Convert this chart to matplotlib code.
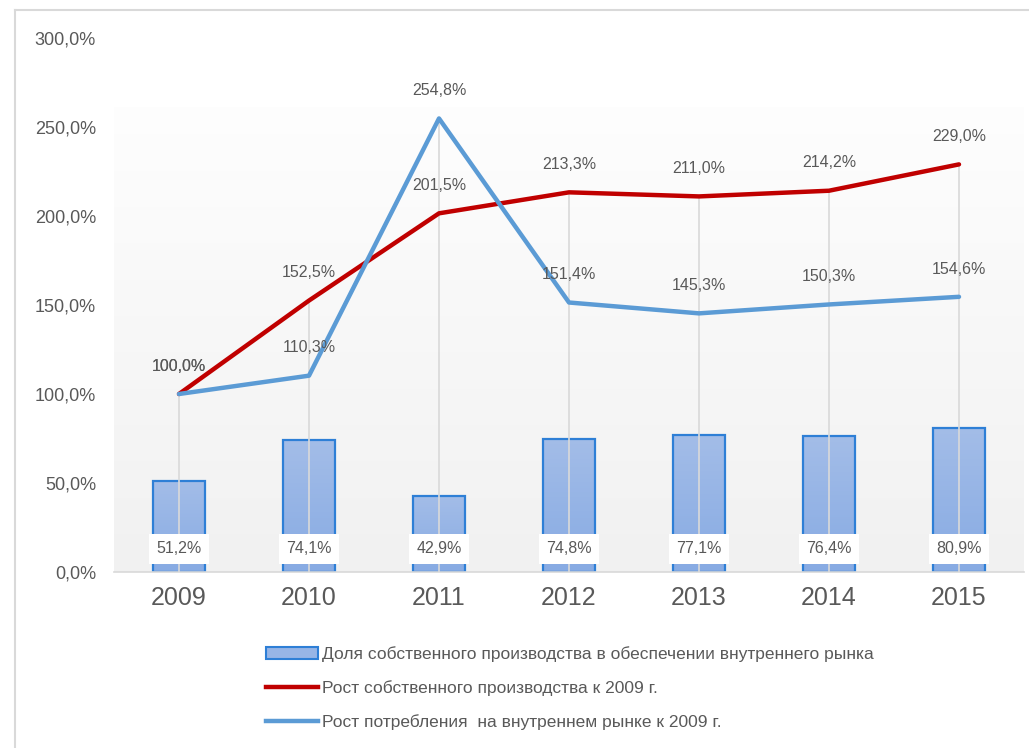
import numpy as np
import matplotlib.pyplot as plt
from matplotlib.lines import Line2D
from matplotlib.patches import Patch

plt.rcParams['font.family'] = ['Liberation Sans', 'DejaVu Sans']

years = ['2009', '2010', '2011', '2012', '2013', '2014', '2015']
share = [51.2, 74.1, 42.9, 74.8, 77.1, 76.4, 80.9]
prod_growth = [100.0, 152.5, 201.5, 213.3, 211.0, 214.2, 229.0]
cons_growth = [100.0, 110.3, 254.8, 151.4, 145.3, 150.3, 154.6]
y_ticks = [0, 50, 100, 150, 200, 250, 300]

share_label = 'Доля собственного производства в обеспечении внутреннего рынка'
prod_label = 'Рост собственного производства к 2009 г.'
cons_label = 'Рост потребления  на внутреннем рынке к 2009 г.'

txt = '#595959'
red = '#c00000'
blue = '#5b9bd5'

def fmt(v):
    return f'{v:.1f}'.replace('.', ',') + '%'

fig = plt.figure(figsize=(10.29, 7.48), dpi=100)
ax = fig.add_axes([114 / 1029, 176 / 748, 910 / 1029, 534 / 748])
x = np.arange(len(years))

# outer chart border (top and left visible)
fig.add_artist(Line2D([15 / 1029, 15 / 1029], [0, 1 - 10 / 748], color='#d9d9d9', lw=1.5,
                      transform=fig.transFigure))
fig.add_artist(Line2D([15 / 1029, 1], [1 - 10 / 748, 1 - 10 / 748], color='#d9d9d9', lw=1.5,
                      transform=fig.transFigure))

# background gradient of the plot area (top white -> bottom light grey)
grad = np.linspace(0, 1, 256).reshape(-1, 1, 1)
bg = np.ones((256, 2, 3)) * (0.995 - 0.05 * grad)
ax.imshow(bg, extent=[-0.5, len(years) - 0.5, 0, 261], aspect='auto', origin='upper',
          zorder=0, interpolation='nearest')

# drop lines
tops = np.maximum(prod_growth, cons_growth)
ax.vlines(x, 0, tops, color='#d9d9d9', lw=1.2, zorder=3)

# bars with vertical gradient
bar_w = 0.4
for xi, v in zip(x, share):
    g = np.linspace(0, 1, 64).reshape(-1, 1, 1)
    top_c = np.array([0.64, 0.74, 0.91])
    bot_c = np.array([0.53, 0.67, 0.89])
    img = np.repeat(top_c * (1 - g) + bot_c * g, 2, axis=1)
    ax.imshow(img, extent=[xi - bar_w / 2, xi + bar_w / 2, 0, v], aspect='auto',
              origin='upper', zorder=2, interpolation='nearest')
    ax.add_patch(plt.Rectangle((xi - bar_w / 2, 0), bar_w, v, fill=False,
                               edgecolor='#2e7fd6', lw=1.6, zorder=2.5))
ax.set_xlim(-0.5, len(years) - 0.5)
ax.set_ylim(0, 300)

ax.plot(x, prod_growth, color=red, lw=3.2, zorder=5, solid_capstyle='round')
ax.plot(x, cons_growth, color=blue, lw=3.2, zorder=5, solid_capstyle='round')

for xi, v in zip(x, share):
    ax.text(xi, 13, fmt(v), ha='center', va='center', fontsize=11.5, color=txt, zorder=6,
            bbox=dict(boxstyle='square,pad=0.45', fc='white', ec='none'))
for xi, v in zip(x, prod_growth):
    ax.annotate(fmt(v), (xi, v), xytext=(0, 20), textcoords='offset points',
                ha='center', va='center', fontsize=11.5, color=txt, zorder=6)
for xi, v in zip(x, cons_growth):
    ax.annotate(fmt(v), (xi, v), xytext=(0, 20), textcoords='offset points',
                ha='center', va='center', fontsize=11.5, color=txt, zorder=6)

ax.set_xticks(x)
ax.set_xticklabels(years, fontsize=18, color=txt)
ax.set_yticks(y_ticks)
ax.set_yticklabels([fmt(t) for t in y_ticks], fontsize=13, color=txt)
ax.tick_params(axis='both', length=0)
ax.tick_params(axis='x', pad=10)
ax.tick_params(axis='y', pad=13)
for s in ['top', 'right', 'left']:
    ax.spines[s].set_visible(False)
ax.spines['bottom'].set_color('#d9d9d9')
ax.spines['bottom'].set_linewidth(1.2)
ax.spines['bottom'].set_zorder(4)

handles = [
    Patch(facecolor='#97b5e6', edgecolor='#2e7fd6', lw=1.5, label=share_label),
    Line2D([0], [0], color=red, lw=3.2, label=prod_label),
    Line2D([0], [0], color=blue, lw=3.2, label=cons_label),
]
fig.legend(handles=handles, loc='upper left', bbox_to_anchor=(259 / 1029, 1 - 639 / 748),
           frameon=False, fontsize=12.5, labelcolor=txt, handlelength=3.0, handleheight=0.7,
           handletextpad=0.25, labelspacing=1.05, borderaxespad=0)

fig.savefig('out.png', dpi=100, facecolor='white')
